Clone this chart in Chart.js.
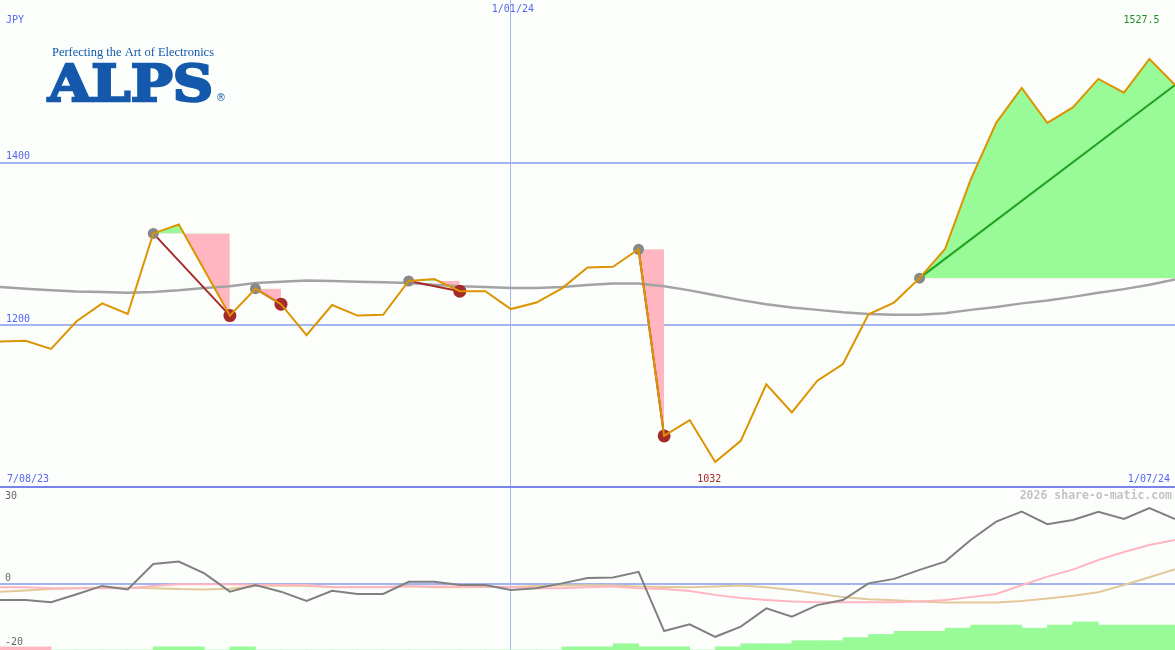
<!DOCTYPE html>
<html>
<head>
<meta charset="utf-8">
<script src="https://cdn.jsdelivr.net/npm/chart.js@4.4.1/dist/chart.umd.min.js"></script>
<style>
  body { margin: 0; background: #fcfefc; }
  #wrap { position: relative; width: 1175px; height: 650px; }
  #main { position: absolute; left: 0; top: 0; }
  #lower { position: absolute; left: 0; top: 488px; }
</style>
</head>
<body>
<div id="wrap">
  <canvas id="main" width="1175" height="488"></canvas>
  <canvas id="lower" width="1175" height="162"></canvas>
</div>
<script>
// weekly closes, JPY
const close = [1180, 1181, 1171, 1205, 1227, 1214, 1313, 1324, 1268, 1212, 1245, 1226, 1188, 1225, 1212, 1213,
  1254.5, 1257, 1242, 1242, 1220, 1228, 1245.5, 1271, 1272, 1293.5, 1064, 1083.5, 1032, 1058, 1127.5, 1093,
  1132, 1152.5, 1213.5, 1228, 1258, 1294, 1379, 1449, 1492, 1449, 1468, 1503, 1486, 1527.5, 1495.5];

// moving average (grey)
const avg = [1247, 1245, 1243, 1241.5, 1241, 1240, 1241, 1243, 1246, 1248, 1252, 1253.5, 1255, 1254.5, 1253.5, 1253,
  1252, 1250, 1248, 1247, 1246, 1246, 1247, 1249.5, 1251.5, 1251.5, 1248, 1243, 1237, 1231, 1226, 1222,
  1219, 1216, 1214, 1213, 1213, 1215, 1219, 1222.5, 1227, 1230.5, 1235, 1240, 1244.5, 1250, 1256.5];

// swing pivots: start index -> end index
const pivotStart = [6, 10, 16, 25, 36];
const pivotEnd = [9, 11, 18, 26, 46];

// lower panel
const momentum = [-5.0, -5.0, -5.7, -3.2, -0.6, -1.7, 6.25, 7.0, 3.3, -2.4, -0.3, -2.4, -5.3, -2.1, -3.1, -3.1,
  0.7, 0.7, -0.3, -0.3, -1.9, -1.3, 0.2, 1.9, 2.0, 3.8, -14.7, -12.6, -16.5, -13.3, -7.6, -10.2,
  -6.6, -5.0, 0.2, 1.6, 4.4, 7.0, 13.75, 19.5, 22.6, 18.7, 20.0, 22.6, 20.3, 23.7, 20.3];
const fastLine = [-1.0, -1.0, -1.3, -1.3, -1.3, -1.3, -0.6, -0.1, -0.1, -0.1, -0.3, -0.3, -0.3, -1.0, -1.0, -1.0,
  -0.8, -0.8, -0.8, -0.8, -0.9, -1.3, -1.3, -1.0, -0.8, -1.3, -1.6, -2.2, -3.4, -4.4, -5.0, -5.5,
  -5.7, -5.7, -5.7, -5.7, -5.5, -5.0, -4.1, -3.1, -0.4, 2.3, 4.5, 7.5, 10.0, 12.2, 13.75];
const slowLine = [-2.4, -2.0, -1.6, -1.3, -1.1, -1.2, -1.3, -1.6, -1.7, -1.5, -0.6, -0.5, -0.6, -0.9, -0.9, -0.9,
  -0.6, -1.0, -1.0, -0.9, -0.9, -0.6, -0.5, -0.4, -0.5, -0.8, -0.9, -1.0, -0.8, -0.5, -1.0, -1.9,
  -3.0, -4.1, -4.8, -5.1, -5.5, -5.8, -5.8, -5.8, -5.3, -4.5, -3.7, -2.6, -0.3, 2.1, 4.6];
const histo = [-1, -1, 0, 0, 0, 0, 1, 1, 0, 1, 0, 0, 0, 0, 0, 0, 0, 0, 0, 0, 0, 0, 1, 1, 2, 1, 1, 0, 1, 2, 2, 3,
  3, 4, 5, 6, 6, 7, 8, 8, 7, 8, 9, 8, 8, 8, 0];

// labels
const currency = "JPY";
const dateLabels = ["7/08/23", "1/01/24", "1/07/24"];
const dateIdx = [0, 20, 46];
const priceTicks = [1200, 1400];
const lowerTicks = [30, 0, -20];

const ORANGE = "#dc9400";
const GREEN_FILL = "#98fb98";
const PINK = "#ffb6c1";
const BROWN = "#a52a2a";
const GRID = "#a4b4f0";
const BLUE_TXT = "#5566ee";
const MONO = '"DejaVu Sans Mono", monospace';

const pts = (arr, from) => arr.map((v, i) => ({ x: (from || 0) + i, y: v }));

// x axis shared setup: only the new-year line
function xAxis() {
  return {
    type: "linear", min: 0, max: close.length - 1, offset: false,
    ticks: { display: false },
    grid: { color: GRID, lineWidth: 1, drawTicks: false, offset: false },
    border: { display: false },
    afterBuildTicks: axis => { axis.ticks = [{ value: dateIdx[1] }]; }
  };
}

// fills + trend lines for each pivot
const swingFills = pivotStart.map((s, k) => ({
  type: "line",
  data: pts(close.slice(s, pivotEnd[k] + 1), s),
  borderWidth: 0, pointRadius: 0,
  fill: { target: { value: close[s] }, above: GREEN_FILL, below: PINK },
  order: 6
}));
const swingLines = pivotStart.map((s, k) => {
  const e = pivotEnd[k];
  return {
    type: "line",
    data: [{ x: s, y: close[s] }, { x: e, y: close[e] }],
    borderColor: close[e] > close[s] ? "#22a022" : BROWN,
    borderWidth: 2, pointRadius: 0, fill: false,
    order: 3
  };
});
const lastIdx = close.length - 1;
const lowDots = pivotEnd.filter(e => e !== lastIdx);

// text drawn on the price panel
const mainText = {
  id: "mainText",
  afterDraw(chart) {
    const { ctx, scales: { x } } = chart;
    ctx.save();
    // logo
    ctx.fillStyle = "#1459ab";
    ctx.strokeStyle = "#1459ab";
    ctx.textAlign = "left";
    ctx.textBaseline = "alphabetic";
    ctx.font = '12.5px "Liberation Serif", serif';
    const tag = "Perfecting the Art of Electronics";
    let w = ctx.measureText(tag).width;
    ctx.save(); ctx.translate(52, 55.5); ctx.scale(162 / w, 1); ctx.fillText(tag, 0, 0); ctx.restore();
    ctx.font = 'bold 51px "DejaVu Serif", serif';
    w = ctx.measureText("ALPS").width;
    ctx.save(); ctx.translate(48, 100.5); ctx.scale(165 / w, 1);
    ctx.lineWidth = 2.5; ctx.lineJoin = "miter";
    ctx.fillText("ALPS", 0, 0); ctx.strokeText("ALPS", 0, 0); ctx.restore();
    ctx.font = '10px "DejaVu Sans", sans-serif';
    ctx.fillText("\u00AE", 216, 101);

    ctx.font = "10px " + MONO;
    ctx.textBaseline = "middle";
    ctx.fillStyle = BLUE_TXT;
    ctx.fillText(currency, 6, 20);
    ctx.fillText(dateLabels[0], 7, 479);
    ctx.textAlign = "center";
    ctx.fillText(dateLabels[1], x.getPixelForValue(dateIdx[1]) + 2, 9);
    ctx.textAlign = "right";
    ctx.fillText(dateLabels[2], 1170, 479);

    const hi = Math.max(...close), lo = Math.min(...close);
    ctx.textAlign = "center";
    ctx.fillStyle = "#1e8c1e";
    ctx.fillText(String(hi), x.getPixelForValue(close.indexOf(hi)) - 8, 20);
    ctx.fillStyle = BROWN;
    ctx.fillText(String(lo), x.getPixelForValue(close.indexOf(lo)) - 6, 479);
    ctx.restore();
  }
};

new Chart(document.getElementById("main"), {
  type: "line",
  data: {
    datasets: [
      { data: pts(close), borderColor: ORANGE, borderWidth: 2, pointRadius: 0, order: 1 },
      { data: pivotStart.map(i => ({ x: i, y: close[i] })), showLine: false,
        pointRadius: 5.5, pointBackgroundColor: "#888888", pointBorderWidth: 0, order: 2 },
      { data: lowDots.map(i => ({ x: i, y: close[i] })), showLine: false,
        pointRadius: 6.5, pointBackgroundColor: BROWN, pointBorderWidth: 0, order: 2 },
      ...swingLines,
      { data: pts(avg), borderColor: "#a3a3a3", borderWidth: 2.5, pointRadius: 0, order: 4 },
      ...swingFills
    ]
  },
  options: {
    responsive: false,
    animation: false,
    layout: { padding: 0, autoPadding: false },
    plugins: { legend: { display: false }, tooltip: { enabled: false } },
    scales: {
      x: xAxis(),
      y: {
        min: 1000, max: 1600,
        grid: {
          drawTicks: false,
          color: c => c.tick && c.tick.value === 1000 ? "#7884ea" : GRID,
          lineWidth: c => c.tick && c.tick.value === 1000 ? 4 : 2
        },
        border: { display: false },
        ticks: {
          mirror: true, padding: 6, labelOffset: -6,
          color: BLUE_TXT, font: { family: MONO, size: 10 },
          callback: v => v === 1000 ? "" : String(v)
        },
        afterBuildTicks: axis => { axis.ticks = [1000, ...priceTicks].map(v => ({ value: v })); },
        // mirrored labels sit inside the plot, so the axis takes no room
        afterFit: axis => { axis.width = 0; axis.paddingTop = 0; axis.paddingBottom = 0; }
      }
    }
  },
  plugins: [mainText]
});

// lower panel text
const lowerText = {
  id: "lowerText",
  afterDraw(chart) {
    const { ctx, scales: { y } } = chart;
    ctx.save();
    ctx.font = "10px " + MONO;
    ctx.textBaseline = "middle";
    ctx.textAlign = "left";
    ctx.fillStyle = "#666666";
    lowerTicks.forEach(v => {
      const py = y.getPixelForValue(v);
      ctx.fillText(String(v), 5, v === y.max ? py + 8 : py - 6);
    });
    ctx.font = "bold 11.5px " + MONO;
    ctx.textAlign = "right";
    ctx.fillStyle = "#c4c4c4";
    ctx.fillText("2026 share-o-matic.com", 1172, 8);
    ctx.restore();
  }
};

new Chart(document.getElementById("lower"), {
  type: "line",
  data: {
    datasets: [
      { data: pts(momentum), borderColor: "#808080", borderWidth: 2, pointRadius: 0, order: 1 },
      { data: pts(fastLine), borderColor: PINK, borderWidth: 2, pointRadius: 0, order: 2 },
      { data: pts(slowLine), borderColor: "#e3c999", borderWidth: 2, pointRadius: 0, order: 3 },
      { type: "bar", yAxisID: "yh", order: 4,
        data: histo.map((v, i) => ({ x: i + 0.5, y: Math.abs(v) })),
        backgroundColor: c => histo[c.dataIndex] < 0 ? PINK : GREEN_FILL,
        borderWidth: 0, barPercentage: 1, categoryPercentage: 1 }
    ]
  },
  options: {
    responsive: false,
    animation: false,
    layout: { padding: 0, autoPadding: false },
    plugins: { legend: { display: false }, tooltip: { enabled: false } },
    scales: {
      x: xAxis(),
      y: {
        min: -20.625, max: 30,
        ticks: { display: false },
        grid: { drawTicks: false, color: GRID, lineWidth: 2 },
        border: { display: false },
        afterBuildTicks: axis => { axis.ticks = [{ value: 0 }]; }
      },
      yh: { display: false, min: 0, max: 52 }
    }
  },
  plugins: [lowerText]
});
</script>
</body>
</html>
